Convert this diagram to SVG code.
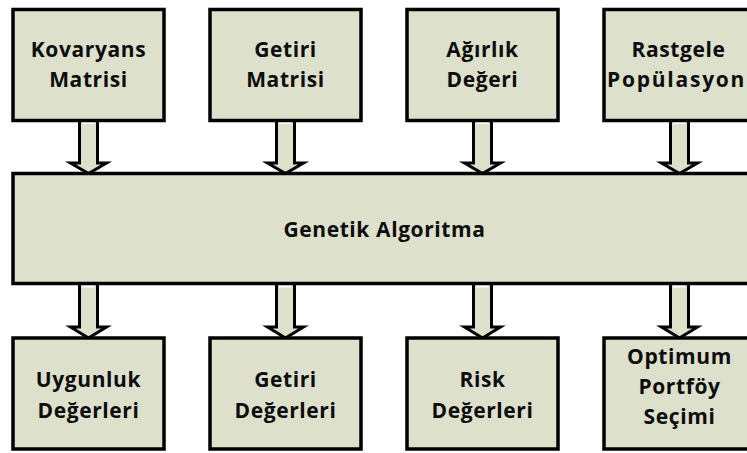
<svg xmlns="http://www.w3.org/2000/svg" width="747" height="453" viewBox="0 0 747 453">
<style>
.box{fill:#dde0cb;stroke:#000;stroke-width:3.5}
.arr{fill:#dde0cb;stroke:#000;stroke-width:3;stroke-linejoin:miter}
.notch{fill:#fff}
text{font-family:"Open Sans","Liberation Sans",Arial,sans-serif;font-weight:bold;font-size:21px;letter-spacing:0.6px;fill:#0d0d0d;text-anchor:middle}
</style>
<rect width="747" height="453" fill="#fff"/>
<g id="connectors">
<path class="arr" d="M79.5,120 V163 H70.5 L88.5,173.5 L106.5,163 H97.5 V120"/>
<path class="arr" d="M276.5,120 V163 H267.5 L285.5,173.5 L303.5,163 H294.5 V120"/>
<path class="arr" d="M473.5,120 V163 H464.5 L482.5,173.5 L500.5,163 H491.5 V120"/>
<path class="arr" d="M670.5,120 V163 H661.5 L679.5,173.5 L697.5,163 H688.5 V120"/>
<path class="arr" d="M79.5,283 V327 H70.5 L88.5,338 L106.5,327 H97.5 V283"/>
<path class="arr" d="M276.5,283 V327 H267.5 L285.5,338 L303.5,327 H294.5 V283"/>
<path class="arr" d="M473.5,283 V327 H464.5 L482.5,338 L500.5,327 H491.5 V283"/>
<path class="arr" d="M670.5,283 V327 H661.5 L679.5,338 L697.5,327 H688.5 V283"/>
<rect class="notch" x="82" y="117" width="12.5" height="7"/>
<rect class="notch" x="279" y="117" width="12.5" height="7"/>
<rect class="notch" x="476" y="117" width="12.5" height="7"/>
<rect class="notch" x="673" y="117" width="12.5" height="7"/>
<rect class="notch" x="82" y="281.5" width="12.5" height="6"/>
<rect class="notch" x="279" y="281.5" width="12.5" height="6"/>
<rect class="notch" x="476" y="281.5" width="12.5" height="6"/>
<rect class="notch" x="673" y="281.5" width="12.5" height="6"/>
</g>
<g id="kovaryans">
<rect class="box" x="13" y="9.5" width="151" height="111"/>
<text x="88.5" y="57">Kovaryans</text>
<text x="88.5" y="87">Matrisi</text>
</g>
<g id="getiri-matrisi">
<rect class="box" x="210" y="9.5" width="151" height="111"/>
<text x="285.5" y="57">Getiri</text>
<text x="285.5" y="87">Matrisi</text>
</g>
<g id="agirlik">
<rect class="box" x="407" y="9.5" width="151" height="111"/>
<text x="482.5" y="57">Ağırlık</text>
<text x="482.5" y="87">Değeri</text>
</g>
<g id="rastgele">
<rect class="box" x="604" y="9.5" width="151" height="111"/>
<text x="678.5" y="57">Rastgele</text>
<text x="676" y="87" textLength="138" lengthAdjust="spacing">Popülasyon</text>
</g>
<g id="genetik">
<rect class="box" x="13" y="173.5" width="742" height="110"/>
<text x="384.5" y="237">Genetik Algoritma</text>
</g>
<g id="uygunluk">
<rect class="box" x="13" y="338" width="151" height="111"/>
<text x="88.5" y="387">Uygunluk</text>
<text x="88.5" y="418">Değerleri</text>
</g>
<g id="getiri-degerleri">
<rect class="box" x="210" y="338" width="151" height="111"/>
<text x="285.5" y="387">Getiri</text>
<text x="285.5" y="418">Değerleri</text>
</g>
<g id="risk">
<rect class="box" x="407" y="338" width="151" height="111"/>
<text x="482.5" y="387">Risk</text>
<text x="482.5" y="418">Değerleri</text>
</g>
<g id="optimum">
<rect class="box" x="604" y="338" width="151" height="111"/>
<text x="679.5" y="364">Optimum</text>
<text x="679.5" y="394">Portföy</text>
<text x="679.5" y="424">Seçimi</text>
</g>
</svg>
